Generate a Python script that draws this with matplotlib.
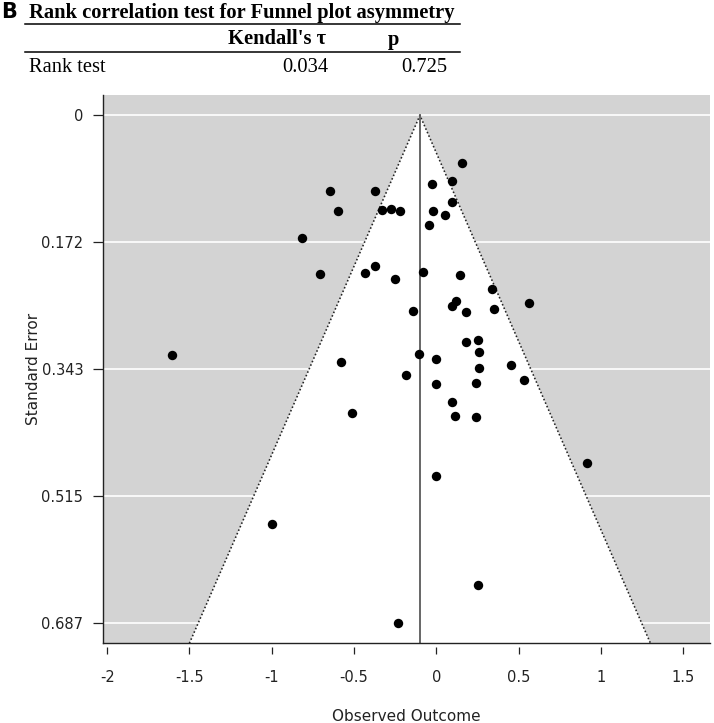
import matplotlib
matplotlib.use("Agg")
import matplotlib.pyplot as plt
from matplotlib.lines import Line2D
import numpy as np

# ---- data ----
observed = [0.156, -0.025, 0.093, -0.646, -0.371, 0.095, -0.598, -0.330, -0.276, -0.223,
            -0.019, 0.050, -0.045, -0.815, -0.371, -0.705, -0.432, -0.250, -0.081, 0.142,
            0.340, 0.564, 0.121, 0.095, 0.182, 0.350, -0.140, 0.182, 0.255, 0.261,
            -0.106, -0.001, -0.580, 0.451, 0.261, -0.187, 0.530, -0.001, 0.242, 0.095,
            -0.511, 0.113, 0.241, -1.608, -1.001, -0.231, 0.917, -0.001, 0.255]
std_err = [0.0644, 0.0924, 0.0883, 0.1019, 0.1023, 0.1172, 0.1290, 0.1280, 0.1263, 0.1298,
           0.1294, 0.1344, 0.1480, 0.1656, 0.2040, 0.2144, 0.2138, 0.2220, 0.2125, 0.2161,
           0.2351, 0.2541, 0.2510, 0.2577, 0.2659, 0.2626, 0.2653, 0.3069, 0.3046, 0.3205,
           0.3228, 0.3300, 0.3336, 0.3377, 0.3421, 0.3516, 0.3580, 0.3638, 0.3621, 0.3873,
           0.4022, 0.4072, 0.4089, 0.3241, 0.5531, 0.6870, 0.4699, 0.4875, 0.6358]
theta = -0.10
yticks = [0, 0.172, 0.343, 0.515, 0.687]
ytick_labels = ["0", "0.172", "0.343", "0.515", "0.687"]
xticks = [-2, -1.5, -1, -0.5, 0, 0.5, 1, 1.5]
xtick_labels = ["-2", "-1.5", "-1", "-0.5", "0", "0.5", "1", "1.5"]
table_title = "Rank correlation test for Funnel plot asymmetry"
table_header = ["Kendall's \u03c4", "p"]
table_row = ["Rank test", "0.034", "0.725"]

W, H = 714, 723
fig = plt.figure(figsize=(W / 100, H / 100), dpi=100)

def fx(px):
    return px / W

def fy(py):
    return 1 - py / H

ax = fig.add_axes([fx(102.7), fy(643.3), (710 - 102.7) / W, (643.3 - 95) / H])
ylo, yhi = -0.0275, 0.7145
ax.set_xlim(-2.027, 1.662)
ax.set_ylim(yhi, ylo)
ax.set_facecolor("#d3d3d3")

for yt in yticks:
    ax.axhline(yt, color="white", lw=1.2, zorder=1)

z = 1.96
ax.fill([theta - z * yhi, theta, theta + z * yhi], [yhi, 0, yhi],
        color="white", zorder=2, lw=0)
ax.plot([theta - z * yhi, theta, theta + z * yhi], [yhi, 0, yhi],
        color="#222222", lw=1.15, ls=(0, (1, 1.4)), zorder=3)
ax.plot([theta, theta], [0, yhi], color="#5a5a5a", lw=1.3, zorder=3)

ax.scatter(observed, std_err, s=46, color="black", zorder=5, linewidths=0)

for s in ["top", "right"]:
    ax.spines[s].set_visible(False)
ax.spines["left"].set_color("#222222")
ax.spines["left"].set_linewidth(1.0)
ax.spines["bottom"].set_position(("outward", 3.4 * 0.72))
ax.spines["bottom"].set_visible(False)
ax.add_line(Line2D([0, 1], [0, 0], transform=ax.transAxes, color="#222222",
                   lw=1.0, clip_on=False, zorder=6))

ax.set_yticks(yticks)
ax.set_yticklabels(ytick_labels)
ax.set_xticks(xticks)
ax.set_xticklabels(xtick_labels)
ax.tick_params(axis="y", length=7, width=0.9, color="#222222", pad=7, labelsize=10.5,
               labelcolor="#222222")
ax.tick_params(axis="x", length=5, width=0.9, color="#222222", pad=12, labelsize=10.5,
               labelcolor="#222222")

ax.set_xlabel("Observed Outcome", fontsize=11, color="#222222")
ax.xaxis.set_label_coords(0.5, (643.3 - 716.7) / 548.3)
ax.xaxis.label.set_va("center")
ax.set_ylabel("Standard Error", fontsize=11, color="#222222")
ax.yaxis.set_label_coords((33 - 102.7) / 607.3, (643.3 - 369) / 548.3)
ax.yaxis.label.set_va("center")

# ---- table at top ----
serif = ["Liberation Serif", "DejaVu Serif"]
fs = 14.8
fig.text(fx(1.0), fy(17.8), "B", fontsize=15, fontweight="bold",
         family="DejaVu Sans", va="baseline", ha="left")
fig.text(fx(29), fy(18), table_title, fontsize=fs, fontweight="bold",
         family=serif, va="baseline", ha="left")
fig.add_artist(Line2D([fx(25), fx(460)], [fy(24), fy(24)], color="black", lw=1.1))
fig.text(fx(228), fy(44.5), table_header[0], fontsize=fs, fontweight="bold",
         family=serif, va="baseline", ha="left")
fig.text(fx(388), fy(44.5), table_header[1], fontsize=fs, fontweight="bold",
         family=serif, va="baseline", ha="left")
fig.add_artist(Line2D([fx(25), fx(460)], [fy(51.7), fy(51.7)], color="black", lw=1.1))
fig.text(fx(29), fy(72), table_row[0], fontsize=fs,
         family=serif, va="baseline", ha="left")
fig.text(fx(328), fy(72), table_row[1], fontsize=fs,
         family=serif, va="baseline", ha="right")
fig.text(fx(447), fy(72), table_row[2], fontsize=fs,
         family=serif, va="baseline", ha="right")

fig.savefig("out.png", dpi=100)
